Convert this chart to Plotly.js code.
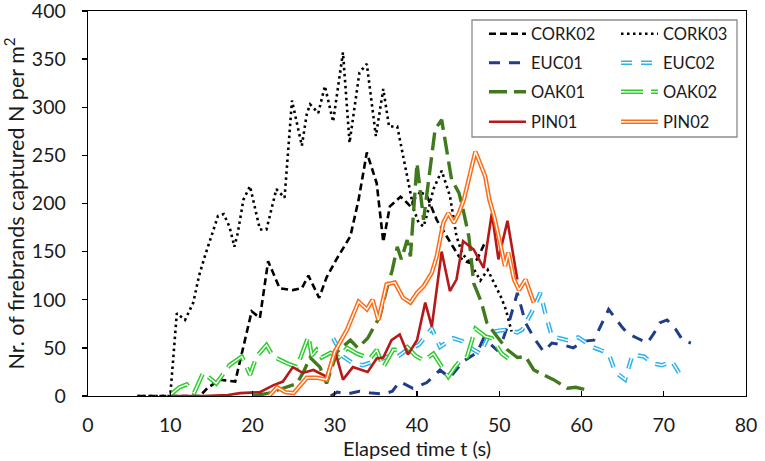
<!DOCTYPE html>
<html>
<head>
<meta charset="utf-8">
<script src="https://cdn.plot.ly/plotly-3.0.1.min.js"></script>
<style>
  html, body { margin: 0; padding: 0; background: #fff; }
  #plot { width: 765px; height: 461px; }
</style>
</head>
<body>
<div id="plot"></div>
<script>
// values (time in s, firebrands per m2)
const cork02X = [6, 8, 10, 12, 13.6, 14.5, 16, 17.9, 19.9, 20.9, 21.9, 23.3, 24.9, 26, 26.8, 28.1, 29, 30.2, 31.9, 32.9, 33.9, 35.1, 35.9, 36.7, 38, 38.4, 39.2, 39.6, 40.4, 41.2, 42.4, 43.6, 44.4, 45.1, 45.8, 46.5, 47.3, 47.9, 48.3];
const cork02Y = [0, 0, 0, 0, 0, 8, 17, 15, 88, 81, 140, 112, 110, 112, 125, 102, 123, 142, 166, 204, 253, 221, 160, 197, 207, 204, 197, 204, 212, 208, 183, 166, 155, 145, 140, 138, 142, 152, 160];

const cork03X = [6, 8, 10, 10.8, 11.8, 12.8, 13.5, 14.2, 15, 15.8, 16.5, 17.2, 17.8, 18.2, 18.9, 19.7, 20.9, 21.7, 22.9, 23.9, 24.8, 25.4, 26, 26.6, 27, 28, 28.8, 29.8, 31, 31.8, 33, 33.9, 35, 35.9, 36.6, 37.6, 38.8, 39.6, 40.2, 40.8, 41.4, 42, 43, 44, 44.8, 45.5, 46.5, 47.7, 48.6, 49.4, 50.2, 50.8, 51.5];
const cork03Y = [0, 0, 0, 86, 79, 97, 125, 145, 166, 187, 189, 176, 155, 169, 204, 218, 173, 173, 215, 206, 307, 284, 260, 293, 303, 294, 322, 285, 357, 263, 336, 345, 270, 319, 280, 280, 228, 194, 180, 176, 194, 215, 234, 208, 166, 148, 138, 120, 131, 117, 103, 90, 67];

const euc01X = [29.5, 30.3, 31.5, 33, 34.5, 36, 37, 37.9, 39.5, 41.2, 42.8, 44, 45.6, 47.3, 48.1, 49.7, 50.5, 51.3, 52.2, 53.2, 54.4, 55.4, 56.4, 57.8, 59, 60.3, 61.5, 62.5, 63.3, 64.9, 65.6, 66.8, 68, 68.8, 69.5, 70.4, 71.4, 72.3, 73.3];
const euc01Y = [0, 4, 2, 5, 3, 2, 5, 15, 8, 14, 27, 19, 36, 45, 60, 48, 60, 80, 107, 76, 58, 46, 55, 53, 50, 57, 58, 75, 90, 72, 65, 60, 55, 65, 76, 79, 70, 58, 55];

const euc02X = [29.8, 31, 32.2, 33.4, 34.5, 35.5, 36.5, 37.5, 38.8, 40.2, 41.8, 42.8, 44.4, 45.5, 46.3, 47.7, 48.9, 50, 51, 52.2, 52.8, 54, 55, 55.6, 56.4, 58.3, 59.6, 61.3, 62.3, 63.3, 64.1, 65.3, 66.2, 67.6, 68.6, 69.8, 71, 72.3];
const euc02Y = [60, 41, 34, 32, 35, 38, 41, 40, 48, 53, 70, 51, 60, 57, 51, 44, 66, 68, 69, 66, 69, 88, 107, 86, 62, 58, 61, 51, 48, 44, 25, 17, 43, 41, 34, 32, 36, 18];

const oak01X = [20, 22, 23, 25.4, 26.2, 27, 28.2, 29, 30.3, 31.9, 32.8, 34, 35.5, 36.4, 37, 37.6, 38.1, 38.8, 39.2, 40, 40.8, 41.6, 42.2, 43, 44.2, 45.1, 45.6, 46.3, 46.9, 47.8, 48.5, 49.7, 51, 52.2, 53.2, 54.2, 55.8, 56.6, 58.3, 59.3, 60.8];
const oak01Y = [0, 3, 6, 13, 25, 40, 30, 13, 46, 58, 50, 60, 83, 114, 131, 155, 142, 162, 145, 242, 183, 239, 277, 287, 225, 211, 194, 166, 117, 98, 76, 62, 48, 40, 41, 27, 20, 17, 8, 9, 6];

const oak02X = [10, 11.1, 12, 12.9, 14, 15.6, 17.2, 18.7, 19.7, 20.5, 21.7, 22.5, 24.2, 25.4, 26.8, 27.2, 27.8, 28.4, 29.5, 30.5, 31.5, 32.7, 34.3, 35.1, 35.9, 37.1, 37.9, 38.8, 39.8, 40.8, 42, 43.8, 44.6, 45.3, 46.1, 47.1, 48.3, 49.1, 50.3, 51.1];
const oak02Y = [1, 9, 12, 3, 24, 13, 32, 41, 22, 41, 53, 41, 34, 30, 62, 42, 48, 40, 45, 40, 50, 44, 39, 48, 30, 48, 48, 51, 42, 37, 44, 20, 30, 37, 41, 70, 62, 60, 44, 39];

const pin01X = [10, 14, 17, 18.5, 20.9, 22.5, 23.7, 24.9, 26.1, 27.4, 29, 30, 31, 32.2, 34, 35.1, 35.9, 36.9, 37.9, 38.9, 40, 41, 41.8, 43, 44, 44.8, 45.6, 46.9, 48.1, 49.1, 49.9, 51, 52.2];
const pin01Y = [0, 0, 1, 3, 4, 11, 15, 30, 24, 27, 20, 48, 17, 30, 25, 39, 40, 58, 64, 43, 58, 97, 72, 150, 109, 121, 161, 152, 133, 190, 142, 182, 121];

const pin02X = [22, 23, 24, 25, 26.6, 27.8, 29, 30, 31.5, 32.9, 33.9, 34.6, 35.3, 36.3, 37.3, 38.3, 39.2, 40, 40.8, 41.8, 42.4, 43.2, 43.8, 44.5, 45.1, 45.7, 47.1, 48.3, 48.8, 49.4, 50.1, 50.7, 51.1, 51.8, 52.4, 53.2, 54.2];
const pin02Y = [0, 9, 4, 3, 19, 19, 17, 46, 69, 98, 90, 100, 79, 116, 118, 102, 97, 107, 114, 128, 145, 180, 190, 180, 190, 204, 254, 228, 204, 186, 159, 135, 149, 121, 110, 121, 97];

const xTicks = [0, 10, 20, 30, 40, 50, 60, 70, 80];
const yTicks = [0, 50, 100, 150, 200, 250, 300, 350, 400];

const FONT = "Lato, 'Open Sans', sans-serif";
const TEXT = "#1a1a1a";

const PLOT_L = 88, PLOT_R = 746, PLOT_T = 11, PLOT_B = 396;
function px2paperX(px) { return (px - PLOT_L) / (PLOT_R - PLOT_L); }
function px2paperY(py) { return (PLOT_B - py) / (PLOT_B - PLOT_T); }

// legend slots: [left px, centre px] in the picture
const slots = {
  legend:   [484, 34],  legend2: [616, 34],
  legend3:  [484, 63],  legend4: [616, 63],
  legend5:  [484, 92],  legend6: [616, 92],
  legend7:  [484, 122], legend8: [616, 122]
};

function line(x, y, name, color, width, dash, legend) {
  return {
    x, y, name,
    type: "scatter",
    mode: "lines",
    line: { color, width, dash: dash || "solid" },
    legend,
    hoverinfo: "skip"
  };
}

// double lines are a thick coloured stroke with a thin white one on top
function doubleLine(x, y, name, color, dash, legend, overlay) {
  return [
    line(x, y, name, color, 4.4, dash, legend),
    line(x, y, name, "#ffffff", 1.4, dash, overlay)
  ];
}

const traces = [
  line(cork02X, cork02Y, "CORK02", "#000000", 2.6, "7px,4px", "legend"),
  line(cork03X, cork03Y, "CORK03", "#000000", 2.6, "2.5px,3.5px", "legend2"),
  line(euc01X, euc01Y, "EUC01", "#1f3d8a", 3, "11px,9px", "legend3"),
  ...doubleLine(euc02X, euc02Y, "EUC02", "#2db2ec", "11px,9px", "legend4", "legend9"),
  line(oak01X, oak01Y, "OAK01", "#417a1e", 3.4, "18px,7px", "legend5"),
  ...doubleLine(oak02X, oak02Y, "OAK02", "#2fcc2f", "22px,8px", "legend6", "legend10"),
  line(pin01X, pin01Y, "PIN01", "#b71818", 2.6, "solid", "legend7"),
  ...doubleLine(pin02X, pin02Y, "PIN02", "#ff6a13", "solid", "legend8", "legend11")
];

function legendAt(key, hidden) {
  const [lx, cy] = slots[key];
  return {
    x: px2paperX(lx), y: px2paperY(cy),
    xanchor: "left", yanchor: "middle",
    bgcolor: "rgba(0,0,0,0)", borderwidth: 0,
    itemwidth: 37,
    font: { family: FONT, size: 16.5, color: hidden ? "rgba(0,0,0,0)" : TEXT },
    itemclick: false, itemdoubleclick: false
  };
}

const layout = {
  width: 765, height: 461,
  margin: { l: PLOT_L, r: 765 - PLOT_R, t: PLOT_T, b: 461 - PLOT_B },
  paper_bgcolor: "#ffffff",
  plot_bgcolor: "#ffffff",
  font: { family: FONT, size: 18, color: TEXT },
  xaxis: {
    range: [0, 80],
    tickvals: xTicks,
    ticktext: xTicks.map(String),
    ticks: "inside", ticklen: 5, tickwidth: 1.3, tickcolor: "#000",
    showline: true, linecolor: "#000", linewidth: 1.3, mirror: true,
    showgrid: false, zeroline: false,
    tickfont: { family: FONT, size: 19.5, color: TEXT },
    ticklabelstandoff: 11,
    ticklabeloverflow: "allow",
    title: { text: "Elapsed time t (s)", font: { family: FONT, size: 20, color: TEXT }, standoff: 0 },
    automargin: false, fixedrange: true
  },
  yaxis: {
    range: [0, 400],
    tickvals: yTicks,
    ticktext: yTicks.map(String),
    ticks: "outside", ticklen: 5, tickwidth: 1.3, tickcolor: "#000",
    showline: true, linecolor: "#000", linewidth: 1.3, mirror: true,
    showgrid: false, zeroline: false,
    tickfont: { family: FONT, size: 19.5, color: TEXT },
    ticklabelstandoff: 12,
    ticklabeloverflow: "allow",
    title: { text: "Nr. of firebrands captured N per m<sup>2</sup>", font: { family: FONT, size: 21.5, color: TEXT }, standoff: 4 },
    automargin: false, fixedrange: true
  },
  shapes: [{
    type: "rect", xref: "paper", yref: "paper", layer: "above",
    x0: px2paperX(472), x1: px2paperX(737),
    y0: px2paperY(137), y1: px2paperY(20),
    line: { color: "#8c8c8c", width: 1.3 },
    fillcolor: "#ffffff"
  }],
  showlegend: true
};

Object.keys(slots).forEach(k => { layout[k] = legendAt(k, false); });
layout.legend9 = legendAt("legend4", true);
layout.legend10 = legendAt("legend6", true);
layout.legend11 = legendAt("legend8", true);

Plotly.newPlot("plot", traces, layout, { displayModeBar: false, staticPlot: true });
</script>
</body>
</html>
